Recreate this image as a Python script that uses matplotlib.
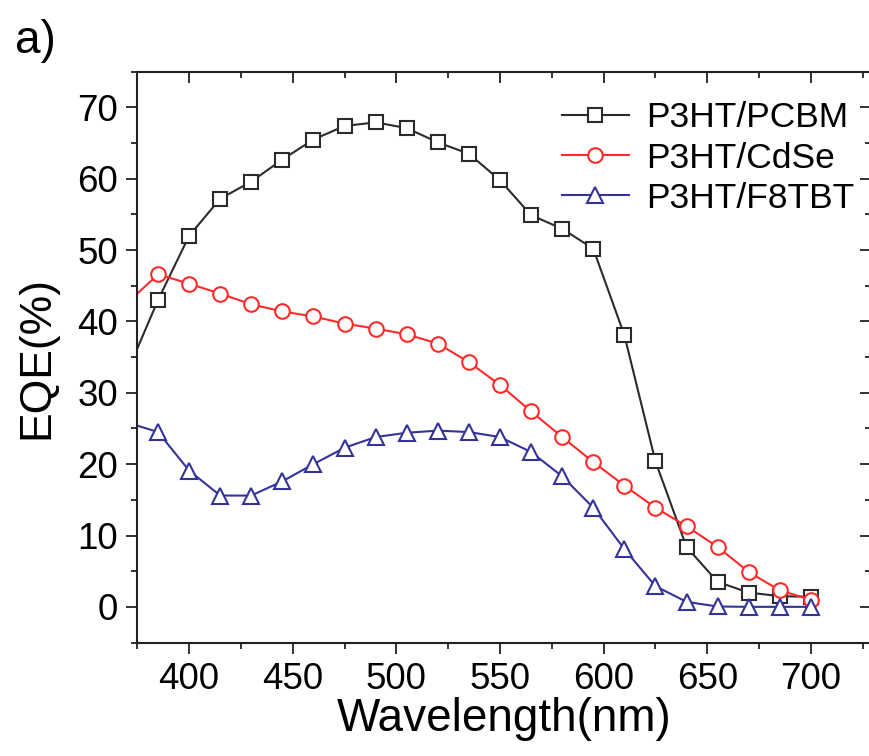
import matplotlib
matplotlib.use("Agg")
import matplotlib.pyplot as plt
from matplotlib.ticker import MultipleLocator

plt.rcParams['font.family'] = ['Liberation Sans', 'DejaVu Sans']

# Wavelength (nm); first point (375) is the curve start at the left axis, unmarked
wavelength = [375, 385, 400, 415, 430, 445, 460, 475, 490, 505, 520, 535, 550,
              565, 580, 595, 610, 625, 640, 655, 670, 685, 700]

eqe_pcbm = [36.2, 43.0, 52.0, 57.2, 59.6, 62.7, 65.5, 67.4, 67.9, 67.1, 65.1, 63.5,
            59.8, 54.9, 53.0, 50.2, 38.1, 20.4, 8.4, 3.5, 2.0, 1.5, 1.4]
eqe_cdse = [43.9, 46.6, 45.3, 43.9, 42.4, 41.4, 40.7, 39.7, 39.0, 38.2, 36.9, 34.3,
            31.1, 27.4, 23.8, 20.3, 17.0, 13.9, 11.3, 8.4, 4.9, 2.3, 1.0]
eqe_f8tbt = [25.4, 24.5, 19.1, 15.6, 15.6, 17.6, 20.0, 22.3, 23.8, 24.4, 24.7, 24.5,
             23.8, 21.7, 18.3, 13.9, 8.1, 2.9, 0.7, 0.05, 0.0, 0.0, 0.0]

labels = ['P3HT/PCBM', 'P3HT/CdSe', 'P3HT/F8TBT']
colors = ['#2b2b2b', '#ff2a2a', '#333399']
markers = ['s', 'o', '^']
msizes = [10.5, 10.5, 11.5]
xticks = [400, 450, 500, 550, 600, 650, 700]
yticks = [0, 10, 20, 30, 40, 50, 60, 70]

fig = plt.figure(figsize=(8.7, 7.56), dpi=100)
ax = fig.add_axes([0.1578, 0.1501, 0.8433, 0.755])

for y, lab, c, m, ms in zip([eqe_pcbm, eqe_cdse, eqe_f8tbt], labels, colors, markers, msizes):
    ax.plot(wavelength, y, color=c, lw=1.5, marker=m, markersize=ms,
            markerfacecolor='white', markeredgecolor=c, markeredgewidth=1.5,
            markevery=list(range(1, len(wavelength))), label=lab)

ax.set_xlim(375, 729)
ax.set_ylim(-5, 75)
ax.set_xticks(xticks)
ax.set_yticks(yticks)
ax.xaxis.set_minor_locator(MultipleLocator(25))
ax.yaxis.set_minor_locator(MultipleLocator(5))

for s in ax.spines.values():
    s.set_linewidth(1.5)
    s.set_color('#222222')

ax.tick_params(axis='both', which='major', length=8, width=1.3, labelsize=26.5,
               color='#222222', direction='out', pad=6)
ax.tick_params(axis='both', which='minor', length=4, width=1.3,
               color='#222222', direction='out')
ax.tick_params(axis='x', which='both', top=True)
ax.tick_params(axis='y', which='both', right=True)
# top and right ticks point inward
for t in ax.xaxis.get_major_ticks() + ax.xaxis.get_minor_ticks():
    t.tick2line.set_marker(3)
for t in ax.yaxis.get_major_ticks() + ax.yaxis.get_minor_ticks():
    t.tick2line.set_marker(0)

ax.set_xlabel('Wavelength(nm)', fontsize=33, labelpad=0)
ax.set_ylabel('EQE(%)', fontsize=32, labelpad=14)

ax.legend(loc='upper right', bbox_to_anchor=(0.978, 0.948), frameon=False,
          fontsize=25.5, handlelength=1.9, handletextpad=0.5, labelspacing=0.2,
          borderpad=0, borderaxespad=0)

fig.text(0.017, 0.975, 'a)', fontsize=33, va='top', ha='left')

fig.savefig('out.png', dpi=100)
